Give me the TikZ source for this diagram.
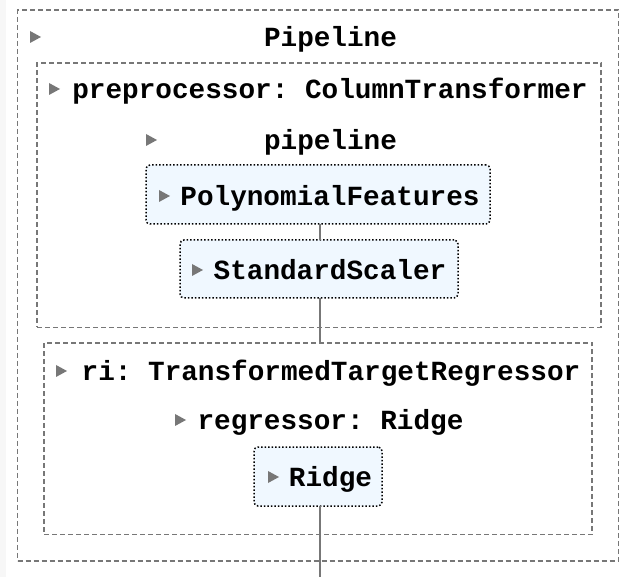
\documentclass[tikz,border=0pt]{standalone}
\usepackage{fontspec}
\usepackage{tikz}
\usetikzlibrary{shapes,arrows}
\usepackage{xcolor}
\newfontfamily\skfont{Liberation Mono}
\definecolor{boxgray}{HTML}{777777}
\definecolor{estblue}{HTML}{F0F8FF}
\frenchspacing
\tikzset{
	dbox/.style={draw=boxgray, line width=1.5pt, dash pattern=on 5pt off 3pt, inner sep=0pt, outer sep=0pt},
	estbox/.style={draw=black, fill=estblue, line width=1.5pt, dotted, rounded corners=4pt, inner sep=0pt, outer sep=0pt},
	lbl/.style={font=\skfont\bfseries\fontsize{27.7}{30}\selectfont, anchor=mid, yshift=-7pt, inner sep=0pt},
	link/.style={draw=boxgray, line width=1.6pt}
}
\newcommand{\tri}[2]{\fill[boxgray] (#1-5,#2-6) -- (#1+6,#2) -- (#1-5,#2+6) -- cycle;}
\begin{document}
\begin{tikzpicture}[x=1pt,y=-1pt]
				\useasboundingbox (0,0) rectangle (635,577);
				\fill[white] (0,0) rectangle (635,577);
				\fill[black!3] (0,0) rectangle (6,577);		% left strip
				% containers
				\node[dbox, minimum width=601pt, minimum height=551pt] (pipebox) at (318,285.5) {};
				\node[dbox, minimum width=564pt, minimum height=264.5pt] (prebox) at (319,195.25) {};
				\node[dbox, minimum width=548pt, minimum height=191.5pt] (ribox) at (318,438.75) {};
				% estimators
				\node[estbox, minimum width=344pt, minimum height=59pt] (pf) at (318,194.5) {};
				\node[estbox, minimum width=278pt, minimum height=58pt] (ss) at (319,269) {};
				\node[estbox, minimum width=128pt, minimum height=59pt] (ridge) at (318,476.5) {};
				\coordinate (bottom) at (320,577);
				% connectors
				\draw[link] (pf.south -| 320,0) -- (ss.north -| 320,0);
				\draw[link] (ss.south -| 320,0) -- (ribox.north -| 320,0);
				\draw[link] (ridge.south -| 320,0) -- (bottom);
				% labels
				\node[lbl] (pipelbl) at (330.5,37) {Pipeline};			\tri{35}{37}
				\node[lbl] (prelbl) at (330,89) {preprocessor: ColumnTransformer};	\tri{54}{89}
				\node[lbl] (sublbl) at (330.5,140) {pipeline};			\tri{151}{140}
				\node[lbl] (pflbl) at (330,196) {PolynomialFeatures};		\tri{164}{196}
				\node[lbl] (sslbl) at (330,270) {StandardScaler};		\tri{197}{270}
				\node[lbl] (rilbl) at (331,371) {ri: TransformedTargetRegressor};	\tri{61}{371}
				\node[lbl] (reglbl) at (330.5,420) {regressor: Ridge};		\tri{180}{420}
				\node[lbl] (ridgelbl) at (330.5,477) {Ridge};			\tri{273}{477}
\end{tikzpicture}
\end{document}
